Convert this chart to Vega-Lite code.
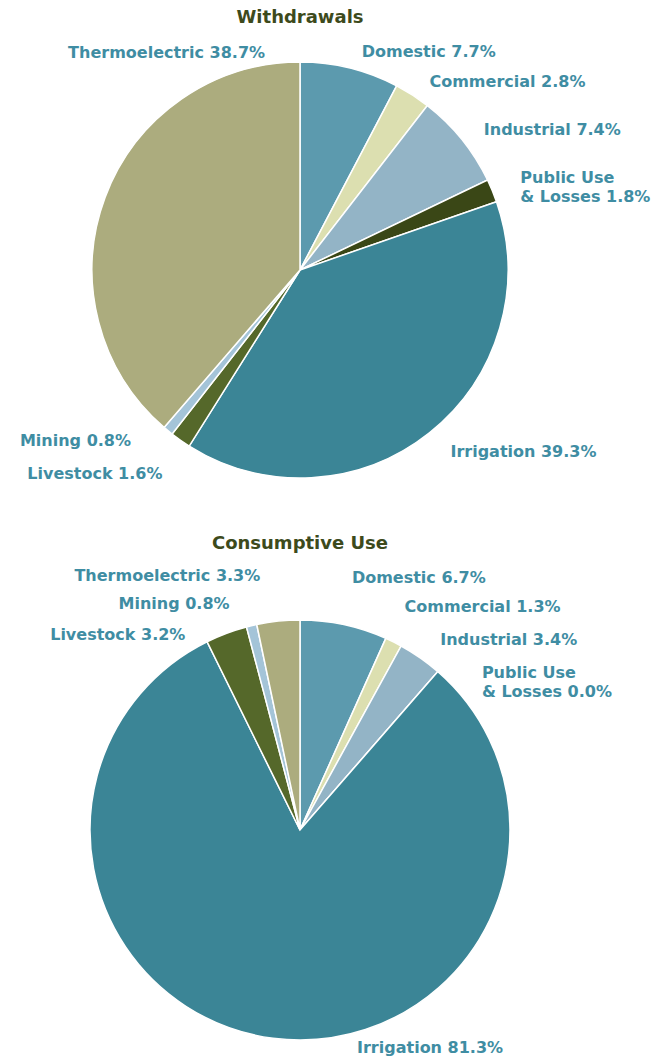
{
  "$schema": "https://vega.github.io/schema/vega-lite/v6.json",
  "padding": 0,
  "background": "white",
  "spacing": 61,
  "bounds": "flush",
  "config": {
    "view": {"stroke": null},
    "title": {"font": "DejaVu Sans", "fontWeight": "bold", "fontSize": 18, "color": "#3d4a1c", "anchor": "middle", "frame": "group"},
    "text": {"font": "DejaVu Sans", "fontWeight": "bold", "fontSize": 16, "fill": "#3f8da3", "baseline": "middle", "lineBreak": "\n", "lineHeight": 19},
    "arc": {"stroke": "white", "strokeWidth": 1.5}
  },
  "datasets": {
    "withdrawals": [
      {"k": 1, "use": "Domestic", "value": 7.7, "label": "Domestic 7.7%"},
      {"k": 2, "use": "Commercial", "value": 2.8, "label": "Commercial 2.8%"},
      {"k": 3, "use": "Industrial", "value": 7.4, "label": "Industrial 7.4%"},
      {"k": 4, "use": "Public Use & Losses", "value": 1.8, "label": "Public Use\n& Losses 1.8%"},
      {"k": 5, "use": "Irrigation", "value": 39.3, "label": "Irrigation 39.3%"},
      {"k": 6, "use": "Livestock", "value": 1.6, "label": "Livestock 1.6%"},
      {"k": 7, "use": "Mining", "value": 0.8, "label": "Mining 0.8%"},
      {"k": 8, "use": "Thermoelectric", "value": 38.7, "label": "Thermoelectric 38.7%"}
    ],
    "consumptive": [
      {"k": 1, "use": "Domestic", "value": 6.7, "label": "Domestic 6.7%"},
      {"k": 2, "use": "Commercial", "value": 1.3, "label": "Commercial 1.3%"},
      {"k": 3, "use": "Industrial", "value": 3.4, "label": "Industrial 3.4%"},
      {"k": 4, "use": "Public Use & Losses", "value": 0.0, "label": "Public Use\n& Losses 0.0%"},
      {"k": 5, "use": "Irrigation", "value": 81.3, "label": "Irrigation 81.3%"},
      {"k": 6, "use": "Livestock", "value": 3.2, "label": "Livestock 3.2%"},
      {"k": 7, "use": "Mining", "value": 0.8, "label": "Mining 0.8%"},
      {"k": 8, "use": "Thermoelectric", "value": 3.3, "label": "Thermoelectric 3.3%"}
    ]
  },
  "vconcat": [
    {
      "title": {"text": "Withdrawals", "offset": -27},
      "width": 600,
      "height": 540,
      "data": {"name": "withdrawals"},
      "encoding": {
        "theta": {"field": "value", "type": "quantitative", "stack": true},
        "order": {"field": "k", "type": "quantitative"}
      },
      "layer": [
        {
          "mark": {"type": "arc", "outerRadius": 208},
          "encoding": {
            "color": {"field": "use", "type": "nominal", "legend": null,
              "scale": {"domain": ["Domestic", "Commercial", "Industrial", "Public Use & Losses", "Irrigation", "Livestock", "Mining", "Thermoelectric"],
                        "range": ["#5c9aae", "#dcdfb0", "#93b4c6", "#3a4716", "#3b8596", "#55682a", "#a4c4d8", "#acac7e"]}}
          }
        },
        {"mark": {"type": "text", "radius": 208, "align": "left", "dx": 12, "dy": -16},
         "encoding": {"text": {"field": "label", "condition": {"test": "datum.use !== 'Domestic'", "value": ""}}}},
        {"mark": {"type": "text", "radius": 208, "align": "left", "dx": 17, "dy": -13},
         "encoding": {"text": {"field": "label", "condition": {"test": "datum.use !== 'Commercial'", "value": ""}}}},
        {"mark": {"type": "text", "radius": 208, "align": "left", "dx": 22, "dy": -9},
         "encoding": {"text": {"field": "label", "condition": {"test": "datum.use !== 'Industrial'", "value": ""}}}},
        {"mark": {"type": "text", "radius": 208, "align": "left", "dx": 28, "dy": -13},
         "encoding": {"text": {"field": "label", "condition": {"test": "datum.use !== 'Public Use & Losses'", "value": ""}}}},
        {"mark": {"type": "text", "radius": 208, "align": "left", "dx": 21, "dy": 19},
         "encoding": {"text": {"field": "label", "condition": {"test": "datum.use !== 'Irrigation'", "value": ""}}}},
        {"mark": {"type": "text", "radius": 208, "align": "right", "dx": -18, "dy": 34},
         "encoding": {"text": {"field": "label", "condition": {"test": "datum.use !== 'Livestock'", "value": ""}}}},
        {"mark": {"type": "text", "radius": 208, "align": "right", "dx": -37, "dy": 10},
         "encoding": {"text": {"field": "label", "condition": {"test": "datum.use !== 'Mining'", "value": ""}}}},
        {"mark": {"type": "text", "radius": 208, "align": "right", "dx": 160, "dy": -144, "clip": true},
         "encoding": {"text": {"field": "label", "condition": {"test": "datum.use !== 'Thermoelectric'", "value": ""}}}}
      ]
    },
    {
      "title": {"text": "Consumptive Use", "offset": 13},
      "width": 600,
      "height": 458,
      "data": {"name": "consumptive"},
      "encoding": {
        "theta": {"field": "value", "type": "quantitative", "stack": true},
        "order": {"field": "k", "type": "quantitative"}
      },
      "layer": [
        {
          "mark": {"type": "arc", "outerRadius": 210},
          "encoding": {
            "color": {"field": "use", "type": "nominal", "legend": null,
              "scale": {"domain": ["Domestic", "Commercial", "Industrial", "Public Use & Losses", "Irrigation", "Livestock", "Mining", "Thermoelectric"],
                        "range": ["#5c9aae", "#dcdfb0", "#93b4c6", "#3a4716", "#3b8596", "#55682a", "#a4c4d8", "#acac7e"]}}
          }
        },
        {"mark": {"type": "text", "radius": 210, "align": "left", "dx": 8, "dy": -47},
         "encoding": {"text": {"field": "label", "condition": {"test": "datum.use !== 'Domestic'", "value": ""}}}},
        {"mark": {"type": "text", "radius": 210, "align": "left", "dx": 11, "dy": -35},
         "encoding": {"text": {"field": "label", "condition": {"test": "datum.use !== 'Commercial'", "value": ""}}}},
        {"mark": {"type": "text", "radius": 210, "align": "left", "dx": 20, "dy": -18},
         "encoding": {"text": {"field": "label", "condition": {"test": "datum.use !== 'Industrial'", "value": ""}}}},
        {"mark": {"type": "text", "radius": 210, "align": "left", "dx": 44, "dy": 1},
         "encoding": {"text": {"field": "label", "condition": {"test": "datum.use !== 'Public Use & Losses'", "value": ""}}}},
        {"mark": {"type": "text", "radius": 210, "align": "left", "dx": 84, "dy": 10},
         "encoding": {"text": {"field": "label", "condition": {"test": "datum.use !== 'Irrigation'", "value": ""}}}},
        {"mark": {"type": "text", "radius": 210, "align": "right", "dx": -41, "dy": 2},
         "encoding": {"text": {"field": "label", "condition": {"test": "datum.use !== 'Livestock'", "value": ""}}}},
        {"mark": {"type": "text", "radius": 210, "align": "right", "dx": -22, "dy": -22},
         "encoding": {"text": {"field": "label", "condition": {"test": "datum.use !== 'Mining'", "value": ""}}}},
        {"mark": {"type": "text", "radius": 210, "align": "right", "dx": -18, "dy": -45},
         "encoding": {"text": {"field": "label", "condition": {"test": "datum.use !== 'Thermoelectric'", "value": ""}}}}
      ]
    }
  ]
}
